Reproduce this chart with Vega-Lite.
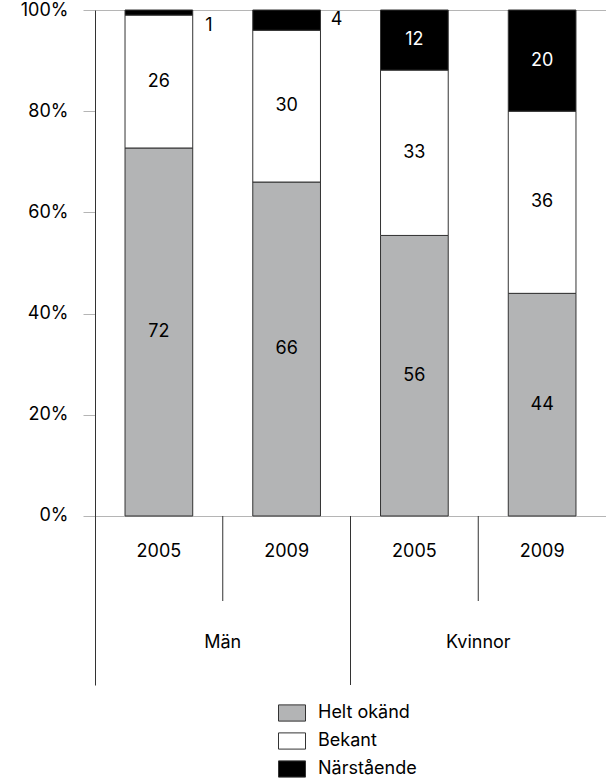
{
  "$schema": "https://vega.github.io/schema/vega-lite/v6.json",
  "width": 511,
  "height": 675,
  "autosize": "none",
  "padding": {"left": 95, "top": 10, "right": 0, "bottom": 98},
  "background": "white",
  "config": {
    "view": {"stroke": null},
    "font": "Inter",
    "text": {"font": "Inter", "fontSize": 18, "baseline": "middle", "align": "center"}
  },
  "data": {
    "values": [
      {"group": "Män", "year": "2005", "type": "Helt okänd", "value": 72},
      {"group": "Män", "year": "2005", "type": "Bekant", "value": 26},
      {"group": "Män", "year": "2005", "type": "Närstående", "value": 1},
      {"group": "Män", "year": "2009", "type": "Helt okänd", "value": 66},
      {"group": "Män", "year": "2009", "type": "Bekant", "value": 30},
      {"group": "Män", "year": "2009", "type": "Närstående", "value": 4},
      {"group": "Kvinnor", "year": "2005", "type": "Helt okänd", "value": 56},
      {"group": "Kvinnor", "year": "2005", "type": "Bekant", "value": 33},
      {"group": "Kvinnor", "year": "2005", "type": "Närstående", "value": 12},
      {"group": "Kvinnor", "year": "2009", "type": "Helt okänd", "value": 44},
      {"group": "Kvinnor", "year": "2009", "type": "Bekant", "value": 36},
      {"group": "Kvinnor", "year": "2009", "type": "Närstående", "value": 20}
    ]
  },
  "transform": [
    {"stack": "value", "groupby": ["group", "year"], "offset": "normalize", "as": ["y0", "y1"]},
    {"calculate": "(datum.y0 + datum.y1) / 2", "as": "mid"}
  ],
  "encoding": {
    "x": {"field": "group", "type": "nominal", "sort": ["Män", "Kvinnor"],
          "scale": {"paddingInner": 0, "paddingOuter": 0}, "axis": null}
  },
  "layer": [
    {
      "mark": {"type": "bar", "stroke": "#333", "strokeWidth": 1},
      "encoding": {
        "xOffset": {"field": "year", "type": "nominal", "sort": ["2005", "2009"],
                    "scale": {"paddingInner": 0.47, "paddingOuter": 0.235}},
        "y": {"field": "y0", "type": "quantitative",
              "scale": {"domain": [-0.334, 1], "nice": false, "zero": false},
              "axis": {
                "title": null,
                "values": [0, 0.2, 0.4, 0.6, 0.8, 1],
                "format": ".0%",
                "labelFont": "Inter",
                "labelFontSize": 18,
                "labelColor": "black",
                "labelPadding": 15,
                "tickSize": 12,
                "tickColor": "#b5b5b5",
                "domainColor": "#333",
                "grid": true,
                "gridColor": "#b5b5b5",
                "gridOpacity": {"condition": {"test": "datum.value === 0 || datum.value === 1", "value": 1}, "value": 0}
              }},
        "y2": {"field": "y1"},
        "color": {"field": "type", "type": "nominal",
                  "scale": {"domain": ["Helt okänd", "Bekant", "Närstående"],
                            "range": ["#b3b4b5", "#ffffff", "#000000"]},
                  "legend": {
                    "title": null,
                    "orient": "none",
                    "legendX": 183,
                    "legendY": 689,
                    "padding": 0,
                    "symbolType": "M-1,-0.6L1,-0.6L1,0.6L-1,0.6Z",
                    "symbolSize": 729,
                    "symbolStrokeColor": "#333",
                    "symbolStrokeWidth": 1,
                    "symbolOpacity": 1,
                    "labelFont": "Inter",
                    "labelFontSize": 18,
                    "labelColor": "black",
                    "labelOffset": 12,
                    "rowPadding": 3
                  }}
      }
    },
    {
      "transform": [{"filter": "datum.value >= 5"}],
      "mark": {"type": "text"},
      "encoding": {
        "xOffset": {"field": "year", "type": "nominal", "sort": ["2005", "2009"]},
        "y": {"field": "mid", "type": "quantitative"},
        "text": {"field": "value", "type": "quantitative"},
        "color": {"condition": {"test": "datum.type === 'Närstående'", "value": "white"}, "value": "black"}
      }
    },
    {
      "transform": [{"filter": "datum.value < 2"}],
      "mark": {"type": "text", "dx": 50, "dy": 13, "color": "black"},
      "encoding": {
        "xOffset": {"field": "year", "type": "nominal", "sort": ["2005", "2009"]},
        "y": {"field": "mid", "type": "quantitative"},
        "text": {"field": "value", "type": "quantitative"}
      }
    },
    {
      "transform": [{"filter": "datum.value >= 2 && datum.value < 5"}],
      "mark": {"type": "text", "dx": 50, "dy": 0, "color": "black"},
      "encoding": {
        "xOffset": {"field": "year", "type": "nominal", "sort": ["2005", "2009"]},
        "y": {"field": "mid", "type": "quantitative"},
        "text": {"field": "value", "type": "quantitative"}
      }
    },
    {
      "transform": [{"filter": "datum.type === 'Helt okänd'"}],
      "mark": {"type": "text", "color": "black"},
      "encoding": {
        "xOffset": {"field": "year", "type": "nominal", "sort": ["2005", "2009"]},
        "y": {"datum": -0.0711},
        "text": {"field": "year", "type": "nominal"}
      }
    },
    {
      "transform": [{"filter": "datum.type === 'Helt okänd' && datum.year === '2005'"}],
      "mark": {"type": "text", "color": "black"},
      "encoding": {
        "y": {"datum": -0.251},
        "text": {"field": "group", "type": "nominal"}
      }
    },
    {
      "transform": [{"filter": "datum.type === 'Helt okänd' && datum.year === '2005'"}],
      "mark": {"type": "rule", "color": "#333", "strokeWidth": 1},
      "encoding": {
        "y": {"datum": 0},
        "y2": {"datum": -0.168}
      }
    },
    {
      "transform": [{"filter": "datum.type === 'Helt okänd' && datum.year === '2005' && datum.group === 'Kvinnor'"}],
      "mark": {"type": "rule", "color": "#333", "strokeWidth": 1},
      "encoding": {
        "x": {"field": "group", "type": "nominal", "bandPosition": 0},
        "y": {"datum": 0},
        "y2": {"datum": -0.334}
      }
    }
  ]
}
